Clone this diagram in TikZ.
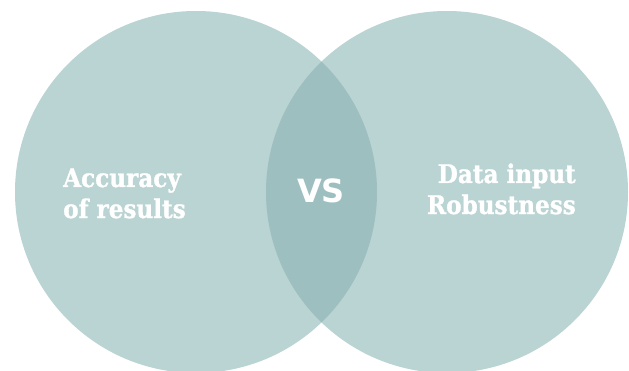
\documentclass[tikz,border=0pt]{standalone}
\usepackage{fontspec}
\newfontfamily\slabfont{DejaVu Serif Condensed}[BoldFont={DejaVu Serif Condensed Bold},BoldFeatures={FakeBold=1.2}]
\newfontfamily\vsfont{DejaVu Sans}
\definecolor{circfill}{HTML}{BAD3D3}
\definecolor{lensfill}{HTML}{9EBFBF}
\begin{document}
\begin{tikzpicture}[x=1pt,y=1pt,
  circ/.style={fill=circfill,draw=none},
  lbl/.style={text=white,font={\slabfont\bfseries\fontsize{25.7}{32}\selectfont},inner sep=0pt}]
\useasboundingbox[fill=white] (0,0) rectangle (629,370);
\path[circ] (196,178) circle[radius=181];
\path[circ] (447,178) circle[radius=181];
\begin{scope}
\clip (196,178) circle[radius=181];
\fill[lensfill] (447,178) circle[radius=181];
\end{scope}
\node[lbl,anchor=base west] (l1) at (63,183) {Accuracy};
\node[lbl,anchor=base west] (l2) at (63,152) {of results};
\node[lbl,anchor=base east] (r1) at (576,187) {Data input};
\node[lbl,anchor=base east] (r2) at (576,156) {Robustness};
\node[text=white,font={\vsfont\bfseries\fontsize{32}{36}\selectfont},inner sep=0pt] (vs) at (321,179) {VS};
\end{tikzpicture}
\end{document}
